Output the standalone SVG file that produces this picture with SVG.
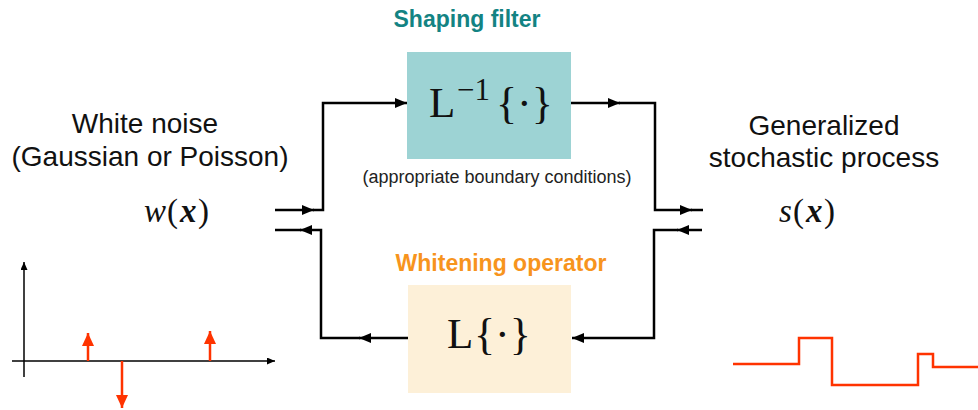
<svg xmlns="http://www.w3.org/2000/svg" width="978" height="410" viewBox="0 0 978 410">
<defs>
<style>
.lbl{font-family:"Liberation Sans",Arial,sans-serif;font-size:28px;fill:#111;text-anchor:middle}
.small{font-family:"Liberation Sans",Arial,sans-serif;font-size:18px;fill:#222;text-anchor:middle}
.title{font-family:"Liberation Sans",Arial,sans-serif;font-size:23px;font-weight:bold;text-anchor:middle}
.math{font-family:"Liberation Serif","Times New Roman",serif;fill:#111}
.conn{fill:none;stroke:#000;stroke-width:2.5}
.axis{fill:none;stroke:#000;stroke-width:1.5}
.red{fill:none;stroke:#ff3300;stroke-width:2.5}
</style>
<marker id="ah" markerUnits="userSpaceOnUse" viewBox="0 0 12 10" refX="12" refY="5" markerWidth="12" markerHeight="10" orient="auto">
<path d="M0,0 L12,5 L0,10 z" fill="#000"/>
</marker>
<marker id="axh" markerUnits="userSpaceOnUse" viewBox="0 0 8 7" refX="8" refY="3.5" markerWidth="8" markerHeight="7" orient="auto">
<path d="M0,0 L8,3.5 L0,7 z" fill="#000"/>
</marker>
<marker id="rh" markerUnits="userSpaceOnUse" viewBox="0 0 13 12" refX="13" refY="6" markerWidth="13" markerHeight="12" orient="auto">
<path d="M0,0 L13,6 L0,12 z" fill="#ff3300"/>
</marker>
</defs>
<rect width="978" height="410" fill="#fff"/>

<g id="shaping-filter">
<text class="title" x="467" y="27" fill="#138383">Shaping filter</text>
<rect x="407" y="52" width="164" height="107" fill="#9dd3d4"/>
<text class="math" y="117" font-size="43"><tspan x="429">L</tspan><tspan x="457" y="100" font-size="31">−1</tspan><tspan x="496" y="118" font-size="44">{·}</tspan></text>
<text class="small" x="497" y="183">(appropriate boundary conditions)</text>
</g>

<g id="whitening-operator">
<text class="title" x="501" y="271" fill="#f7941d">Whitening operator</text>
<rect x="408" y="285" width="163" height="108" fill="#fdf0d8"/>
<text class="math" y="348" font-size="43"><tspan x="447">L</tspan><tspan x="474" y="349" font-size="44">{·}</tspan></text>
</g>

<g id="white-noise">
<text class="lbl" x="145" y="133">White noise</text>
<text class="lbl" x="150" y="166">(Gaussian or Poisson)</text>
<text class="math" y="222" font-size="33"><tspan x="144" font-style="italic">w</tspan><tspan x="167">(</tspan><tspan x="180" font-style="italic" font-weight="bold">x</tspan><tspan x="198">)</tspan></text>
</g>

<g id="generalized-process">
<text class="lbl" x="824" y="135">Generalized</text>
<text class="lbl" x="824" y="167">stochastic process</text>
<text class="math" y="222" font-size="33"><tspan x="779" font-style="italic">s</tspan><tspan x="793">(</tspan><tspan x="806" font-style="italic" font-weight="bold">x</tspan><tspan x="824">)</tspan></text>
</g>

<g id="connectors">
<path class="conn" d="M275,210 H314" marker-end="url(#ah)"/>
<path class="conn" d="M313,210 H323 V103 H407" marker-end="url(#ah)"/>
<path class="conn" d="M571,103 H620" marker-end="url(#ah)"/>
<path class="conn" d="M619,103 H655 V210 H692" marker-end="url(#ah)"/>
<path class="conn" d="M691,210 H703"/>
<path class="conn" d="M702,230 H677" marker-end="url(#ah)"/>
<path class="conn" d="M678,230 H654 V338 H572" marker-end="url(#ah)"/>
<path class="conn" d="M408,338 H359" marker-end="url(#ah)"/>
<path class="conn" d="M360,338 H321 V230 H300" marker-end="url(#ah)"/>
<path class="conn" d="M301,230 H275"/>
</g>

<g id="noise-plot">
<path class="axis" d="M24,377 V262" marker-end="url(#axh)"/>
<path class="axis" d="M12,361 H275" marker-end="url(#axh)"/>
<path class="red" d="M88,361 V333" marker-end="url(#rh)"/>
<path class="red" d="M122,361 V408" marker-end="url(#rh)"/>
<path class="red" d="M210,361 V331" marker-end="url(#rh)"/>
</g>

<g id="process-plot">
<path class="red" d="M733,364 H799 V338 H832 V385 H918 V354 H933 V367 H978"/>
</g>
</svg>
